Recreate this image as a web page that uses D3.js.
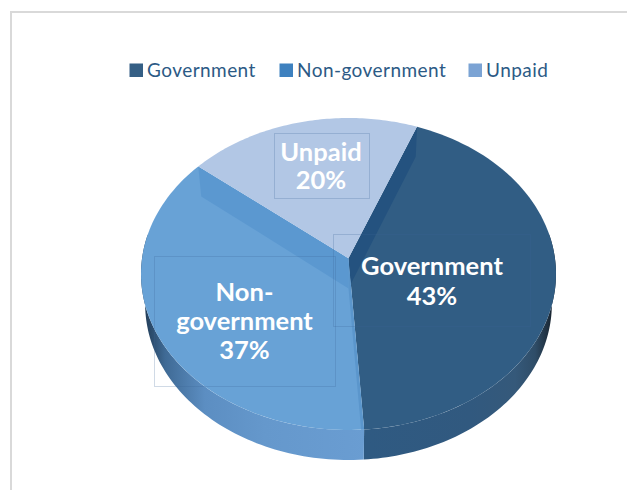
<!DOCTYPE html>
<html>
<head>
<meta charset="utf-8">
<script src="https://cdn.jsdelivr.net/npm/d3@7"></script>
<style>
  html, body { margin: 0; padding: 0; background: #fff; }
  svg { display: block; }
  text { font-family: Lato, "Open Sans", sans-serif; }
</style>
</head>
<body>
<svg id="chart" width="627" height="490"></svg>
<script>
// Payer shares, in percent
const categories = ["Government", "Non-government", "Unpaid"];
const shares = [43, 37, 20];
const labelLines = [["Government", "43%"], ["Non-", "government", "37%"], ["Unpaid", "20%"]];

const faceColors = ["#315d84", "#68a2d6", "#b2c7e5"];
const innerWallColors = ["#24527f", "#5b98d0", null];
const legendColors = ["#355f85", "#3e81bf", "#7ba3d4"];

// Tilted disc geometry
const cx = 348.5, cy = 274, rx = 207.5, ry = 156;
const tilt = 0.1;       // moves the apex off the ellipse centre for perspective
const depth = 30;       // thickness of the pie
const baseScale = 0.98; // the lower rim sits slightly narrower

const svg = d3.select("#chart");
const defs = svg.append("defs");

// Outer frame: only the top and left edges fall inside the canvas
svg.append("path")
  .attr("d", "M11 490V12H627")
  .attr("fill", "none").attr("stroke", "#d9d9d9").attr("stroke-width", 2);

// Map an angle on the flat disc to the screen, at a given radius and level (0 top, 1 base)
function project(angle, radius, level) {
  const x = radius * Math.sin(angle), y = radius * Math.cos(angle);
  const w = 1 + tilt * y;
  const X = x * Math.sqrt(1 - tilt * tilt) / w;
  const Y = (y + tilt) / w;
  const s = 1 - (1 - baseScale) * level;
  return [cx + rx * X * s, cy - ry * Y + depth * level];
}

const line = d3.line();
const arcAngles = (a0, a1) => d3.range(0, 81).map(i => a0 + (a1 - a0) * i / 80);

const startAngle = 21.3 * Math.PI / 180;
const arcs = d3.pie().sort(null).startAngle(startAngle).endAngle(startAngle + 2 * Math.PI)(shares);

const facePath = d =>
  line([project(0, 0, 0), ...arcAngles(d.startAngle, d.endAngle).map(a => project(a, 1, 0))]) + "Z";

// Flat wall running from the apex to the rim along one slice edge
const innerWall = angle =>
  line([project(0, 0, 0), project(angle, 1, 0), project(angle, 1, 1), project(0, 0, 1)]) + "Z";

// Outer wall band between the top rim and the base rim
const outerWall = (a0, a1) => {
  const angles = arcAngles(a0, a1);
  return line([...angles.map(a => project(a, 1, 0)), ...angles.slice().reverse().map(a => project(a, 1, 1))]) + "Z";
};

function wallGradient(id, stops) {
  const g = defs.append("linearGradient").attr("id", id)
    .attr("gradientUnits", "userSpaceOnUse")
    .attr("x1", 140).attr("x2", 560).attr("y1", 0).attr("y2", 0);
  stops.forEach(([x, c]) => g.append("stop").attr("offset", (x - 140) / 420).attr("stop-color", c));
}
wallGradient("wall-gov", [[367, "#2f5a82"], [470, "#31597f"], [515, "#35597a"], [535, "#2f4d68"], [553, "#18232e"]]);
wallGradient("wall-non", [[146, "#24405c"], [165, "#3f6a95"], [205, "#5c8ec2"], [265, "#6598cc"], [367, "#6a9dd2"]]);

// Outer walls of the two slices facing the viewer
const govArc = arcs[0], nonArc = arcs[1];
svg.append("path").attr("d", outerWall(Math.PI * 0.45, govArc.endAngle)).attr("fill", "url(#wall-gov)");
svg.append("path").attr("d", outerWall(govArc.endAngle, Math.PI * 1.55)).attr("fill", "url(#wall-non)");

// Slice faces
svg.selectAll("path.face").data(arcs).join("path")
  .attr("class", "face")
  .attr("d", facePath)
  .attr("fill", (d, i) => faceColors[i]);

arcs.forEach((d, i) => {
  defs.append("clipPath").attr("id", "clip-" + i).append("path").attr("d", facePath(d));
});

// Inner walls showing through the glassy faces
svg.append("path").attr("d", innerWall(govArc.startAngle))
  .attr("fill", innerWallColors[0]).attr("clip-path", "url(#clip-0)");
svg.append("path").attr("d", innerWall(nonArc.endAngle))
  .attr("fill", innerWallColors[1]).attr("clip-path", "url(#clip-1)");
svg.append("path").attr("d", innerWall(govArc.endAngle))
  .attr("fill", "#5b96cc").attr("clip-path", "url(#clip-1)");

// Data label outlines
const labelBoxes = [
  { x: 333, y: 234, w: 197, h: 92, cx: 432, base: 275, step: 30 },
  { x: 154, y: 256, w: 181, h: 130, cx: 244.5, base: 301, step: 29 },
  { x: 274, y: 133, w: 95, h: 65, cx: 321, base: 161, step: 28 }
];
svg.selectAll("rect.label-box").data(labelBoxes).join("rect")
  .attr("class", "label-box")
  .attr("x", d => d.x + 0.5).attr("y", d => d.y + 0.5)
  .attr("width", d => d.w).attr("height", d => d.h)
  .attr("fill", "none")
  .attr("stroke", "rgba(60,100,150,0.24)");

// Data labels
labelBoxes.forEach((box, i) => {
  svg.append("g").selectAll("text").data(labelLines[i]).join("text")
    .attr("x", box.cx)
    .attr("y", (d, j) => box.base + j * box.step)
    .attr("text-anchor", "middle")
    .attr("fill", "#fff")
    .attr("font-weight", 700)
    .attr("font-size", 25.5)
    .text(d => d);
});

// Legend
const legendX = [129.5, 279.5, 468.5];
const legend = svg.append("g").selectAll("g").data(categories).join("g")
  .attr("transform", (d, i) => `translate(${legendX[i]},63.5)`);
legend.append("rect").attr("width", 13.5).attr("height", 13.5)
  .attr("fill", (d, i) => legendColors[i]);
legend.append("text")
  .attr("x", 17.5).attr("y", 13.5)
  .attr("font-size", 19)
  .attr("letter-spacing", 0.45)
  .attr("fill", "#2c5a85")
  .text(d => d);
</script>
</body>
</html>
